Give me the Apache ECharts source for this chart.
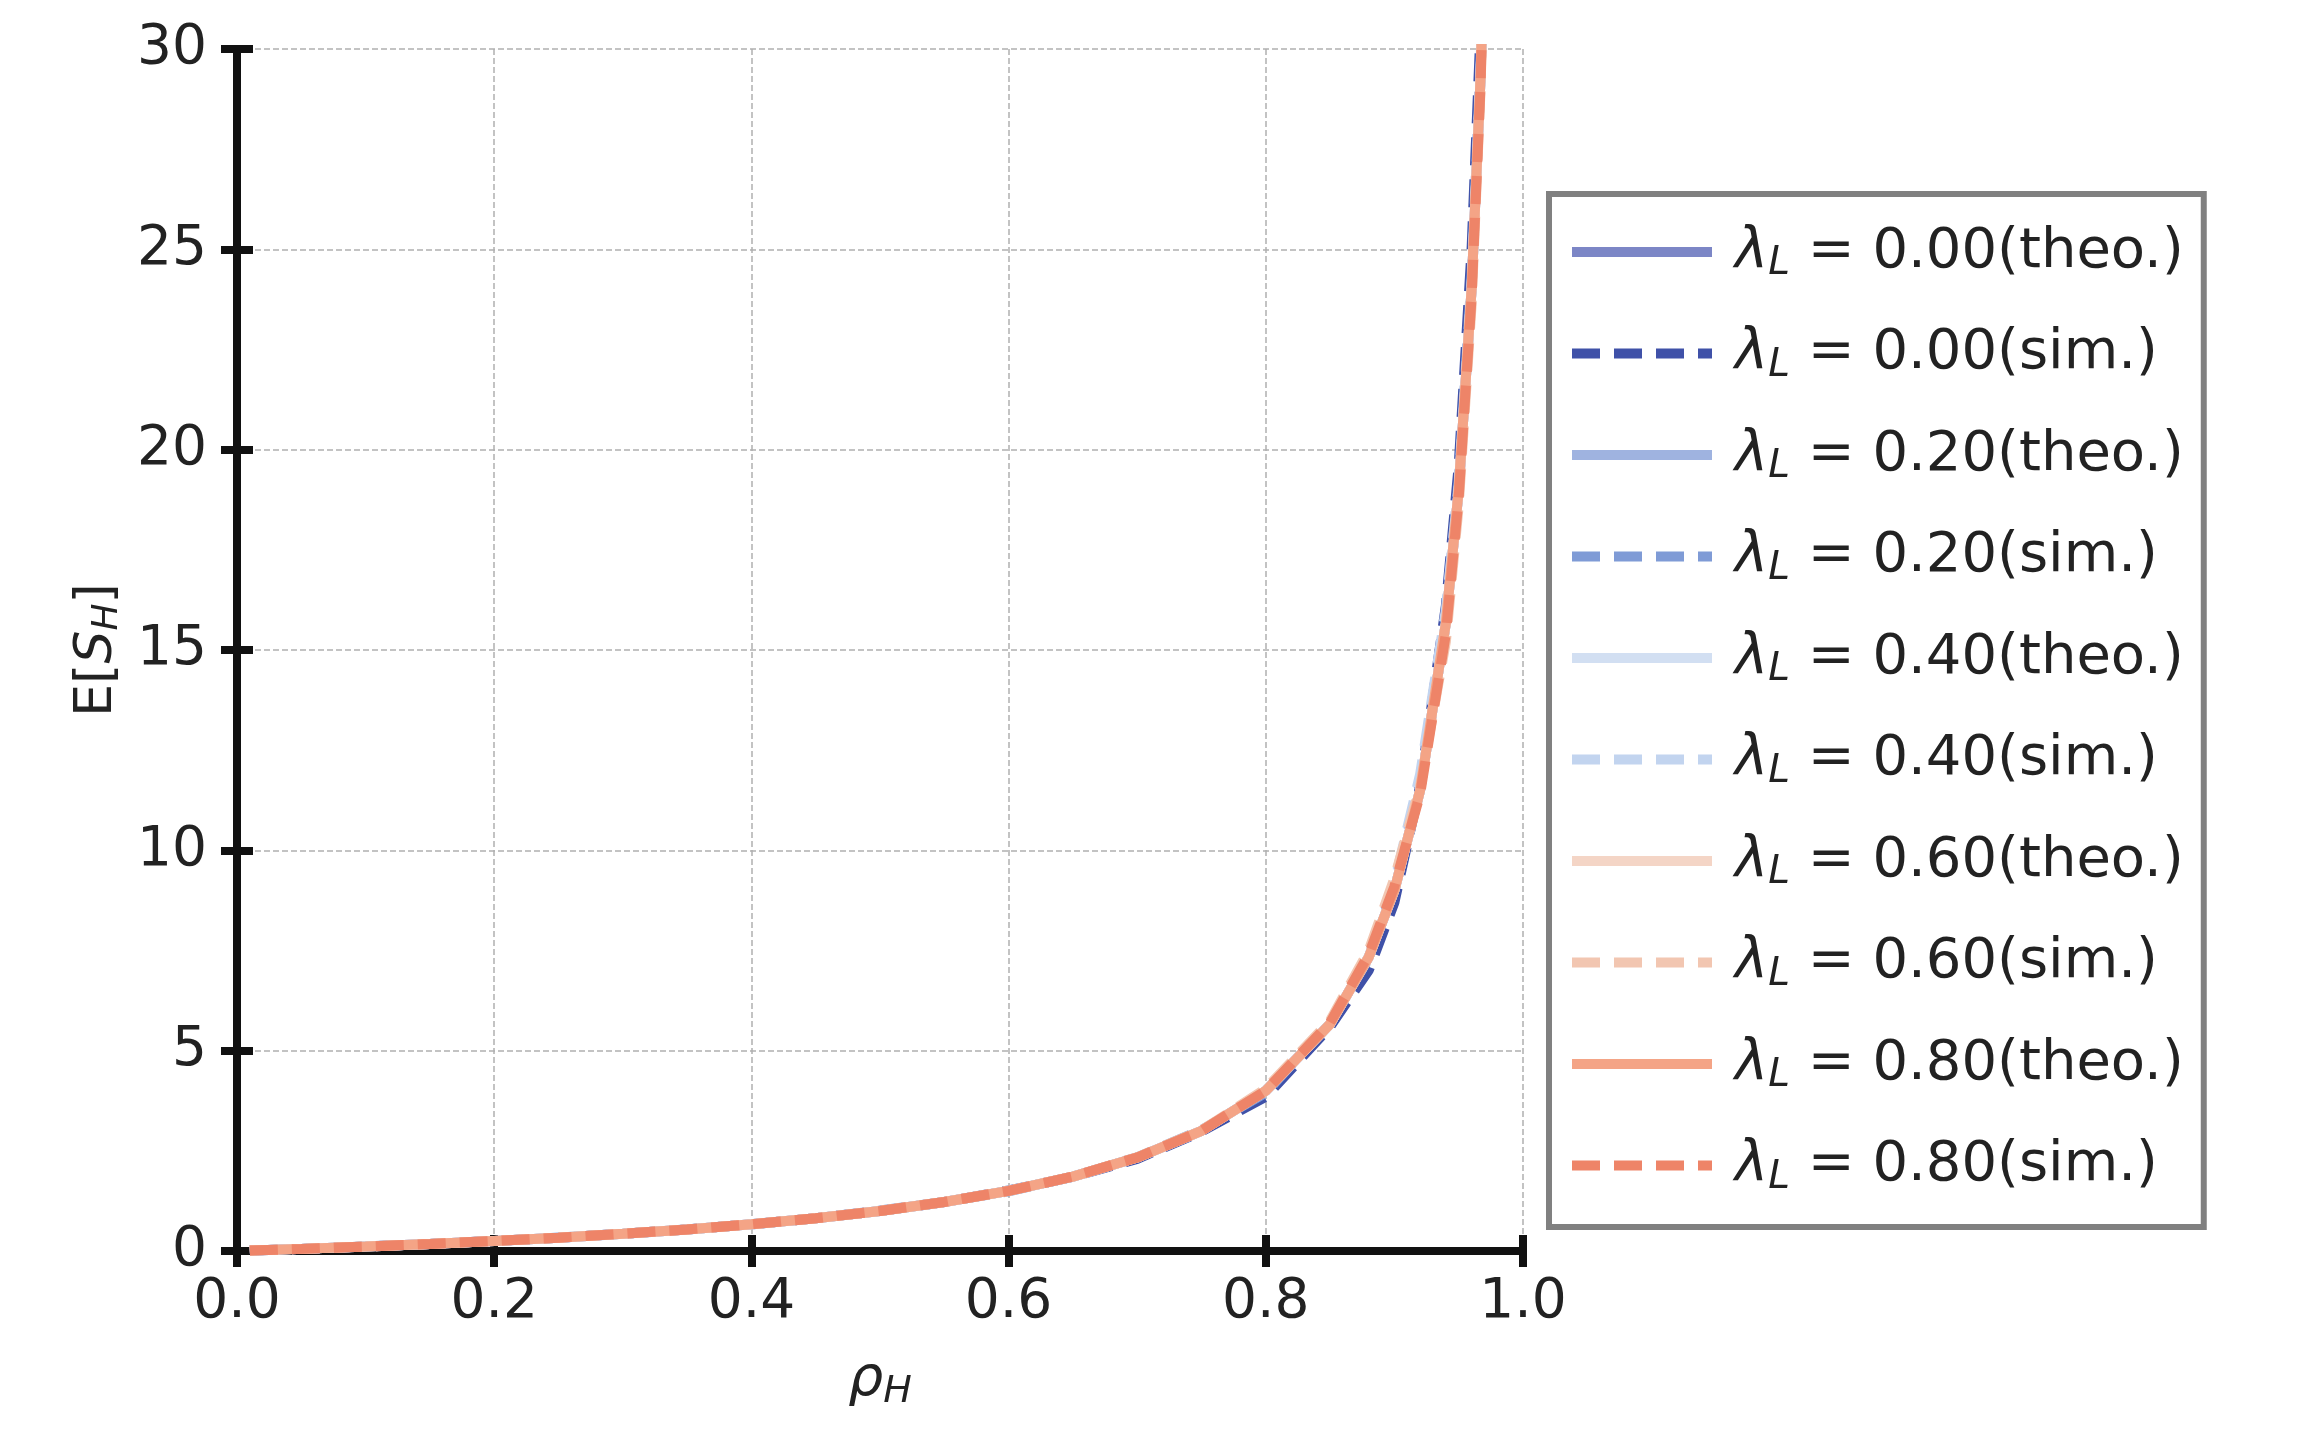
<!DOCTYPE html>
<html><head><meta charset="utf-8">
<script src="https://cdn.jsdelivr.net/npm/echarts@6/dist/echarts.min.js"></script>
<style>html,body{margin:0;padding:0;background:#fff}#c{width:2319px;height:1441px}</style>
</head><body><div id="c"></div>
<script>
const rho = [0.01,0.05,0.1,0.15,0.2,0.25,0.3,0.35,0.4,0.45,0.5,0.55,0.6,0.65,0.7,0.75,0.8,0.85,0.88,0.9,0.92,0.94,0.95,0.96,0.967,0.975];
const theo = [0.01,0.053,0.111,0.176,0.25,0.333,0.429,0.538,0.667,0.818,1.0,1.222,1.5,1.857,2.333,3.0,4.0,5.667,7.33,9.0,11.5,15.67,19.0,24.0,29.3,39];
const sim00 = [0.01,0.052,0.112,0.175,0.251,0.332,0.43,0.54,0.665,0.82,1.0,1.22,1.51,1.85,2.30,2.98,3.85,5.6,7.0,8.7,11.6,16.1,19.6,25.0,30.5,40];
const sim20 = [0.01,0.053,0.110,0.177,0.249,0.334,0.428,0.537,0.668,0.817,1.01,1.223,1.49,1.86,2.34,3.02,3.95,5.7,7.3,9.1,11.7,15.9,19.2,24.3,29.6,39];
const sim40 = [0.01,0.053,0.111,0.176,0.25,0.333,0.43,0.539,0.666,0.819,1.0,1.221,1.5,1.857,2.335,3.0,4.02,5.68,7.4,9.2,11.9,16.0,19.1,24.1,29.4,39];
const sim60 = [0.01,0.053,0.111,0.176,0.25,0.333,0.429,0.538,0.667,0.818,1.0,1.222,1.5,1.86,2.34,3.01,4.05,5.75,7.5,9.3,11.6,15.2,18.6,23.6,29.0,39];
const sim80 = [0.01,0.053,0.111,0.176,0.25,0.333,0.429,0.538,0.667,0.818,1.0,1.222,1.5,1.857,2.333,3.0,4.0,5.7,7.4,9.1,11.4,15.4,18.8,23.8,29.1,39];
const lams = ['0.00','0.20','0.40','0.60','0.80'];
const theoColors = ['#7c86c6','#9fb3e0','#d2dff2','#f4d5c6','#f4a486'];
const simColors = ['#3f51a8','#7f9bd6','#c2d4ef','#f2c6b1','#ee8468'];
const simData = [sim00,sim20,sim40,sim60,sim80];

const series = [];
lams.forEach((l,i)=>{
  series.push({name:'t'+i,type:'line',symbol:'none',showSymbol:false,data:rho.map((x,k)=>[x,theo[k]]),
    lineStyle:{color:theoColors[i],width:10},itemStyle:{color:theoColors[i]},z:2+i});
  series.push({name:'s'+i,type:'line',symbol:'none',showSymbol:false,data:rho.map((x,k)=>[x,simData[i][k]]),
    lineStyle:{color:simColors[i],width:10,type:[28,14]},itemStyle:{color:simColors[i]},z:2+i});
});
series.push({type:'line',xAxisIndex:1,yAxisIndex:1,data:[],silent:true});
const legendNames = {};
lams.forEach((l,i)=>{legendNames['t'+i]=l+'(theo.)';legendNames['s'+i]=l+'(sim.)';});

const F='DejaVu Sans';
const axisLbl={fontFamily:F,fontSize:55,color:'#222'};
const tick={show:true,inside:true,length:16,lineStyle:{width:8,color:'#111'}};
const aline={show:true,lineStyle:{color:'#111',width:8}};
const chart = echarts.init(document.getElementById('c'));
chart.setOption({
  animation:false,
  grid:{left:237,top:49,width:1286,height:1202},
  xAxis:[{type:'value',min:0,max:1,interval:0.2,
    axisLabel:{...axisLbl,margin:24,formatter:v=>v.toFixed(1)},
    name:'{i|ρ}{s|H}',nameLocation:'middle',nameGap:100,
    nameTextStyle:{rich:{i:{fontFamily:F,fontStyle:'italic',fontSize:55,color:'#222'},s:{fontFamily:F,fontStyle:'italic',fontSize:38,color:'#222',verticalAlign:'bottom',padding:[22,0,0,0]}}},
    axisLine:aline,axisTick:tick,
    splitLine:{lineStyle:{color:'#b0b0b0',type:'dashed',width:1.5}}},
   {type:'value',position:'top',min:0,max:1,interval:0.2,axisLabel:{show:false},
    axisLine:aline,axisTick:tick,splitLine:{show:false}}],
  yAxis:[{type:'value',min:0,max:30,interval:5,
    axisLabel:{...axisLbl,margin:30},
    name:'{n|E[}{i|S}{s|H}{n|]}',nameLocation:'middle',nameGap:110,
    nameTextStyle:{rich:{n:{fontFamily:F,fontSize:52,color:'#222'},i:{fontFamily:F,fontStyle:'italic',fontSize:52,color:'#222'},s:{fontFamily:F,fontStyle:'italic',fontSize:36,color:'#222',verticalAlign:'bottom',padding:[22,0,0,0]}}},
    axisLine:aline,axisTick:tick,
    splitLine:{lineStyle:{color:'#b0b0b0',type:'dashed',width:1.5}}},
   {type:'value',position:'right',min:0,max:30,interval:5,axisLabel:{show:false},
    axisLine:aline,axisTick:tick,splitLine:{show:false}}],
  legend:{orient:'vertical',left:1549,top:194,
    padding:[30,20,30,18],itemGap:42,itemWidth:140,itemHeight:24,
    borderColor:'#808080',borderWidth:6,backgroundColor:'#fff',
    itemStyle:{opacity:0},lineStyle:{width:10},
    data:series.filter(s=>s.name).map(s=>s.name),
    formatter:n=>'{i|λ}{s|L}{n| = '+legendNames[n]+'}',
    textStyle:{padding:[0,0,0,18],rich:{i:{fontFamily:F,fontStyle:'italic',fontSize:56,color:'#222'},s:{fontFamily:F,fontStyle:'italic',fontSize:39,color:'#222',verticalAlign:'bottom',padding:[24,0,0,0]},n:{fontFamily:F,fontSize:56,color:'#222'}}}},
  series
});
</script></body></html>
